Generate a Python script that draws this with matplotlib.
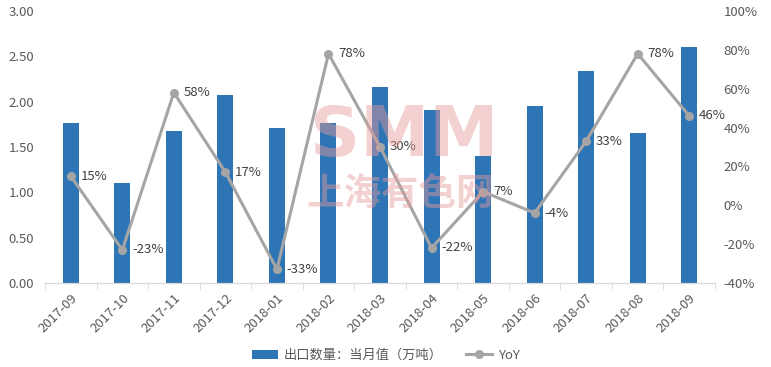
import matplotlib
matplotlib.use("Agg")
import matplotlib.pyplot as plt
from matplotlib.ticker import FuncFormatter, MultipleLocator

plt.rcParams['font.family'] = ['Noto Sans CJK SC', 'DejaVu Sans']

months = ["2017-09", "2017-10", "2017-11", "2017-12", "2018-01", "2018-02", "2018-03",
          "2018-04", "2018-05", "2018-06", "2018-07", "2018-08", "2018-09"]
export_qty = [1.77, 1.10, 1.68, 2.07, 1.71, 1.77, 2.16, 1.91, 1.40, 1.95, 2.34, 1.65, 2.60]
yoy = [15, -23, 58, 17, -33, 78, 30, -22, 7, -4, 33, 78, 46]

bar_label = "出口数量：当月值（万吨）"
line_label = "YoY"

fig = plt.figure(figsize=(7.71, 3.67), dpi=100)
ax = fig.add_axes([0.0584, 0.229, 0.869, 0.741])
ax2 = ax.twinx()

x = range(len(months))
bars = ax.bar(x, export_qty, width=0.31, color="#2E75B6", label=bar_label, zorder=2)
ax.set_xlim(-0.5, len(months) - 0.5)
ax.set_ylim(0, 3.0)
ax.yaxis.set_major_locator(MultipleLocator(0.5))
ax.yaxis.set_major_formatter(FuncFormatter(lambda v, p: f"{v:.2f}"))

line, = ax2.plot(x, yoy, color="#A5A5A5", lw=2.2, marker="o", markersize=5.5,
                 label=line_label, zorder=3)
ax2.set_ylim(-40, 100)
ax2.yaxis.set_major_locator(MultipleLocator(20))
ax2.yaxis.set_major_formatter(FuncFormatter(lambda v, p: f"{v:.0f}%"))
for xi, v in zip(x, yoy):
    ax2.annotate(f"{v}%", (xi, v), xytext=(7, 0), textcoords="offset points",
                 ha="left", va="center", fontsize=9.5, color="#404040")

tick_color = "#595959"
for a in (ax, ax2):
    for s in ("top", "left", "right"):
        a.spines[s].set_visible(False)
    a.spines["bottom"].set_color("#D9D9D9")
    a.tick_params(axis="y", length=0, labelsize=9.5, labelcolor=tick_color)
ax.tick_params(axis="y", pad=8)
ax2.tick_params(axis="y", pad=6)
ax.set_xticks(list(x))
ax.set_xticklabels(months, rotation=45, ha="right", rotation_mode="anchor",
                   fontsize=9.5, color=tick_color)
ax.set_xticks([i - 0.5 for i in range(len(months) + 1)], minor=True)
ax.tick_params(axis="x", which="major", length=0, pad=6)
ax.tick_params(axis="x", which="minor", length=5, color="#D9D9D9")

# watermark
fig.text(0.524, 0.627, "SMM", fontsize=50, fontweight="heavy", color="#E89A9A",
         alpha=0.45, ha="center", va="center", family="DejaVu Sans", zorder=10)
fig.text(0.519, 0.474, "上海有色网", fontsize=27, fontweight="bold", color="#E89A9A",
         alpha=0.45, ha="center", va="center", zorder=10)

fig.legend(handles=[bars, line], labels=[bar_label, line_label], loc="center",
           bbox_to_anchor=(0.5, 0.032), ncol=2, frameon=False, fontsize=9.5,
           labelcolor=tick_color, handlelength=2.0, handletextpad=0.4,
           columnspacing=1.8)

fig.savefig("out.png", dpi=100)
